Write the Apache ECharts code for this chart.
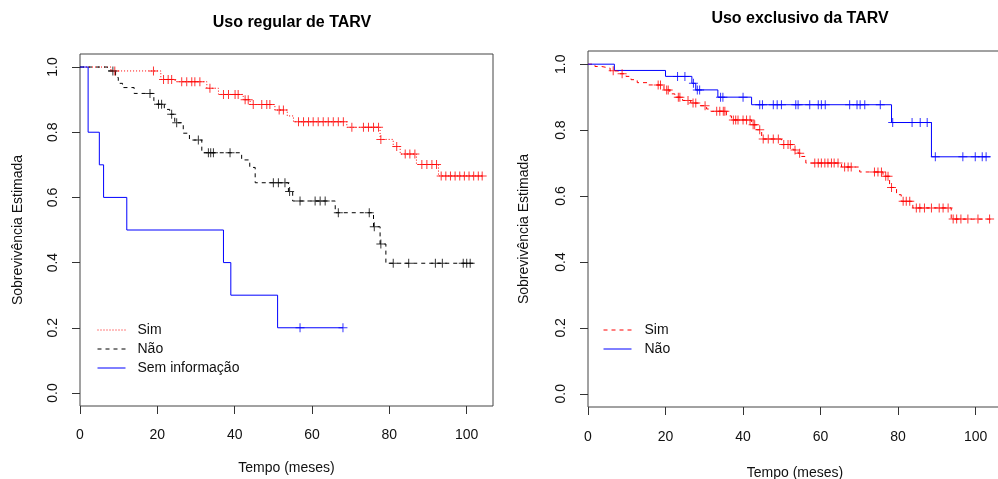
<!DOCTYPE html>
<html><head><meta charset="utf-8">
<script src="https://cdn.jsdelivr.net/npm/echarts@6/dist/echarts.min.js"></script>
<style>html,body{margin:0;padding:0;background:#fff}#c{width:998px;height:479px}</style>
</head><body><div id="c"></div>
<script>
// ---- tick labels / texts ----
const xTicks = [0, 20, 40, 60, 80, 100];
const yTicks = [0, 0.2, 0.4, 0.6, 0.8, 1.0];
const titles = ['Uso regular de TARV', 'Uso exclusivo da TARV'];
const xName = 'Tempo (meses)';
const yName = 'Sobrevivência Estimada';

// ---- Panel 1: Uso regular de TARV ----
// steps: [time, survival after the event]
const regSimSteps = [[0,1],[8,0.988],[20.9,0.962],[24.6,0.955],[32.8,0.935],[35.8,0.916],[42.2,0.90],[44,0.885],[50.4,0.868],[53.6,0.85],[55.2,0.832],[69,0.815],[77.6,0.778],[81,0.756],[82.8,0.733],[87,0.701],[92.7,0.666]];
const regSimCensor = [9,19,21.6,22.8,23.7,26.3,27.6,28.9,29.7,31,33.6,37.1,38.4,40.1,40.9,42.7,43.5,44.8,47,48.3,49.1,51.5,52.6,56.5,57.8,59.1,60.3,61.6,62.9,64.2,65.5,66.8,68.1,70.3,73.3,74.6,75.9,77.2,77.8,81.9,84.1,85.3,86.6,88.4,89.7,91,92.2,93.4,94.6,95.8,97,98.2,99.4,100.6,101.8,103,104];
const regSimEnd = 104;

const regNaoSteps = [[0,1],[7.1,0.988],[9.2,0.968],[9.9,0.95],[11,0.937],[14,0.919],[19.1,0.897],[19.6,0.886],[21.8,0.870],[23.2,0.855],[24.5,0.829],[26.7,0.797],[28.3,0.776],[31.5,0.737],[41.8,0.715],[43.9,0.692],[45.3,0.645],[53.9,0.618],[55,0.589],[66,0.553],[75.9,0.510],[77.6,0.457],[79.1,0.398]];
const regNaoCensor = [8.5,18.1,20.3,21.1,23.7,25,30.6,33.2,33.8,34.5,38.8,50,51.3,53,54.2,56.9,60.8,62.1,63.4,66.8,74.8,76.1,77.8,81,85,91.9,93.7,99.1,100,100.9];
const regNaoEnd = 102.2;

const regSemSteps = [[0,1],[2.1,0.8],[5,0.7],[6.1,0.6],[12.1,0.5],[37.1,0.4],[39,0.3],[51.1,0.2]];
const regSemCensor = [56.9,68];
const regSemEnd = 68;

// ---- Panel 2: Uso exclusivo da TARV ----
const excSimSteps = [[0,1],[1.8,0.993],[3.5,0.988],[5.7,0.98],[7.8,0.971],[9.8,0.963],[11.1,0.953],[12.7,0.944],[15.5,0.937],[19.6,0.922],[21.1,0.910],[22.4,0.90],[24.4,0.89],[26.5,0.882],[28.7,0.874],[30.6,0.864],[31.7,0.857],[35.7,0.843],[37,0.831],[42.2,0.816],[43.5,0.801],[44.8,0.773],[49.9,0.756],[52.9,0.74],[54.2,0.73],[55.1,0.72],[56.2,0.70],[65.4,0.688],[70.1,0.673],[76.1,0.660],[77.8,0.626],[79.6,0.604],[80.8,0.584],[83.8,0.564],[93.7,0.530]];
const excSimCensor = [6.5,8.8,18.1,18.7,20.3,20.7,23.3,23.7,25.8,27.1,27.8,30.2,33.2,34,34.9,35.3,37.5,38.1,38.7,40,40.9,41.8,42.6,43,44.3,45.2,46.5,47.8,49.1,50.5,51.6,52.2,53.4,54.6,58.5,59.4,60.2,61.1,61.9,62.8,63.5,64.5,66.2,67.1,67.9,73.9,74.8,75.7,76.8,77.4,78.3,81.3,82.1,83,84.7,85.6,86.8,88.6,90.6,91.6,92.9,94.2,95.1,96.2,98,100.6,103.6];
const excSimEnd = 104.5;

const excNaoSteps = [[0,1],[6.8,0.981],[20,0.963],[26.8,0.942],[27.8,0.922],[33.5,0.90],[42.2,0.877],[78.3,0.823],[88.6,0.719]];
const excNaoCensor = [23.1,25,27.2,28.2,28.8,34.2,34.8,40,44.3,45,47.8,48.8,49.9,53.6,54.2,57.2,59.4,60.2,61.2,67.5,69.4,70.2,71.4,75.4,78.6,83.6,85.7,87.5,89.6,96.7,99.9,101.7,102.7];
const excNaoEnd = 103.8;

const legendLabels = {reg_sim:'Sim', reg_nao:'Não', reg_sem:'Sem informação', exc_sim:'Sim', exc_nao:'Não'};

// ---- helpers ----
const FONT = '"Liberation Sans", Arial, sans-serif';
const PLUS = 'path://M4,0 L5,0 L5,4 L9,4 L9,5 L5,5 L5,9 L4,9 L4,5 L0,5 L0,4 L4,4 Z';
function survAt(steps, t) { let s = steps[0][1]; for (const p of steps) { if (p[0] <= t) s = p[1]; else break; } return s; }
function lineData(steps, end) { return steps.concat([[end, steps[steps.length - 1][1]]]); }
function censorData(steps, cens) { return cens.map(t => [t, survAt(steps, t)]); }

function curve(name, gi, steps, cens, end, color, dash) {
  return [
    { name: name, type: 'line', xAxisIndex: gi, yAxisIndex: gi, step: 'end', symbol: 'none',
      data: lineData(steps, end), lineStyle: { color: color, width: 1, type: dash }, itemStyle: { color: color },
      silent: true, animation: false, z: 2 },
    { name: name + '_c', type: 'scatter', xAxisIndex: gi, yAxisIndex: gi, symbol: PLUS, symbolSize: 9,
      data: censorData(steps, cens), itemStyle: { color: color }, silent: true, animation: false, z: 3 }
  ];
}

function xAxis(gi, max, gap, margin) {
  return { type: 'value', gridIndex: gi, min: 0, max: max,
    axisLine: { show: false, onZero: false }, splitLine: { show: false },
    axisTick: { show: true, length: 8, customValues: xTicks, lineStyle: { color: '#333' } },
    axisLabel: { customValues: xTicks, margin: margin, fontSize: 14, fontFamily: FONT, color: '#111' },
    name: xName, nameLocation: 'middle', nameGap: gap, nameTextStyle: { fontSize: 14, fontFamily: FONT, color: '#111' } };
}
function yAxis(gi, gap) {
  return { type: 'value', gridIndex: gi, min: -0.04, max: 1.04,
    axisLine: { show: false, onZero: false }, splitLine: { show: false },
    axisTick: { show: true, length: 8, customValues: yTicks, lineStyle: { color: '#333' } },
    axisLabel: { customValues: yTicks, rotate: 90, margin: 20, fontSize: 14, fontFamily: FONT, color: '#111',
      formatter: v => v.toFixed(1) },
    name: yName, nameLocation: 'middle', nameRotate: 90, nameGap: gap, nameTextStyle: { fontSize: 14, fontFamily: FONT, color: '#111' } };
}

const legendCommon = { orient: 'vertical', itemWidth: 28, itemHeight: 14, itemGap: 5, selectedMode: false,
  itemStyle: { opacity: 0 }, lineStyle: { width: 1 }, formatter: n => legendLabels[n] };

const chart = echarts.init(document.getElementById('c'), null, { renderer: 'canvas' });
chart.setOption({
  backgroundColor: '#fff',
  animation: false,
  title: [
    { text: titles[0], left: 287, top: 10, textAlign: 'center', textStyle: { fontSize: 16, fontWeight: 'bold', fontFamily: FONT, color: '#000' } },
    { text: titles[1], left: 795, top: 6, textAlign: 'center', textStyle: { fontSize: 16, fontWeight: 'bold', fontFamily: FONT, color: '#000' } }
  ],
  grid: [
    { left: 80, top: 54, width: 413, height: 352, show: true, borderColor: '#444', borderWidth: 1, backgroundColor: 'transparent', outerBoundsMode: 'none', containLabel: false },
    { left: 588, top: 51, width: 414, height: 356, show: true, borderColor: '#444', borderWidth: 1, backgroundColor: 'transparent', outerBoundsMode: 'none', containLabel: false }
  ],
  xAxis: [xAxis(0, 106.8, 55, 22), xAxis(1, 106.8, 59, 23)],
  yAxis: [yAxis(0, 55), yAxis(1, 57)],
  legend: [
    Object.assign({ left: 92, top: 318, data: ['reg_sim', 'reg_nao', 'reg_sem'],
      textStyle: { fontSize: 14, fontFamily: FONT, color: '#111', padding: [0, 0, 0, 7] } }, legendCommon),
    Object.assign({ left: 598, top: 318, data: ['exc_sim', 'exc_nao'],
      textStyle: { fontSize: 14, fontFamily: FONT, color: '#111', padding: [0, 0, 0, 8] } }, legendCommon)
  ],
  series: [].concat(
    curve('reg_sim', 0, regSimSteps, regSimCensor, regSimEnd, '#ff0000', [1, 2]),
    curve('reg_nao', 0, regNaoSteps, regNaoCensor, regNaoEnd, '#000000', [4, 4]),
    curve('reg_sem', 0, regSemSteps, regSemCensor, regSemEnd, '#0000ff', 'solid'),
    curve('exc_sim', 1, excSimSteps, excSimCensor, excSimEnd, '#ff0000', [4, 4]),
    curve('exc_nao', 1, excNaoSteps, excNaoCensor, excNaoEnd, '#0000ff', 'solid')
  )
});
</script></body></html>
